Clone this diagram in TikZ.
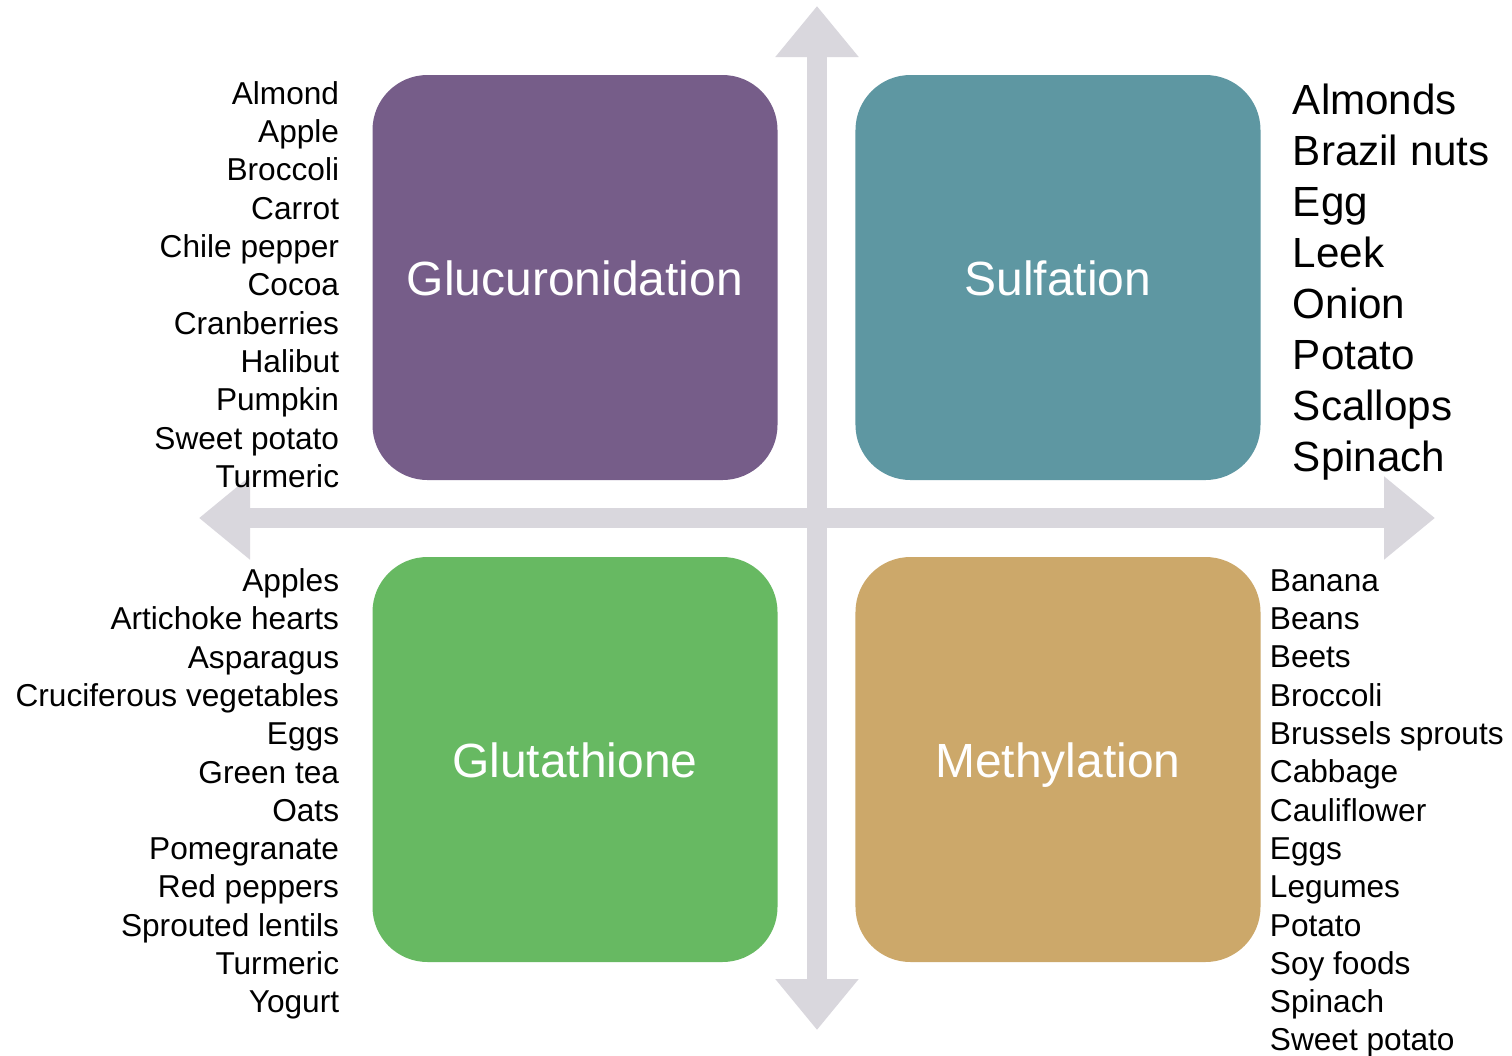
\documentclass[tikz,border=0pt]{standalone}
\usepackage{fontspec}
\setmainfont{Liberation Sans}
\usetikzlibrary{matrix,arrows.meta,positioning}

\definecolor{glucpurple}{HTML}{765D89}
\definecolor{sulfteal}{HTML}{5E97A2}
\definecolor{glutgreen}{HTML}{67B962}
\definecolor{methtan}{HTML}{CCA86A}
\definecolor{crossgray}{HTML}{D9D7DD}

\tikzset{
  pathway/.style={minimum width=4.05cm, minimum height=4.05cm, inner sep=0pt, anchor=center,
    text height=10pt, text depth=0pt,
    rounded corners=0.55cm, text=white, font=\fontsize{13.65}{16}\selectfont},
  foods/.style={inner sep=0pt, font=\fontsize{9}{10.9}\selectfont},
  bigfoods/.style={inner sep=0pt, font=\fontsize{12}{14.5}\selectfont},
  axis/.style={crossgray, line width=0.2cm,
    {Triangle[width=0.8cm,length=0.51cm]}-{Triangle[width=0.8cm,length=0.51cm]}}
}

\begin{document}
\begin{tikzpicture}
  \useasboundingbox[fill=white] (0,0) rectangle (15.12,10.55);
  % the cross
  \coordinate (up) at (8.17,10.49);
  \coordinate (down) at (8.17,0.25);
  \coordinate (west) at (1.99,5.37);
  \coordinate (east) at (14.35,5.37);
  \draw[axis] (down) -- (up);
  \draw[axis] (west) -- (east);

  \matrix (m) [matrix of nodes, row sep=0.77cm, column sep=0.78cm, nodes={pathway}] at (8.165,5.365)
  {
|[fill=glucpurple]| Glucuronidation & |[fill=sulfteal]| Sulfation \\
|[fill=glutgreen]| Glutathione     & |[fill=methtan]| Methylation \\
};

  % food lists
  \node (glucfood) [foods, align=right, left=0.32cm of m-1-1, yshift=-0.07cm]
  {Almond\\Apple\\Broccoli\\Carrot\\Chile pepper\\Cocoa\\Cranberries\\Halibut\\Pumpkin\\Sweet potato\\Turmeric};
  \node (sulffood) [bigfoods, align=left, right=0.31cm of m-1-2, yshift=-0.045cm]
  {Almonds\\Brazil nuts\\Egg\\Leek\\Onion\\Potato\\Scallops\\Spinach};
  \node (glutfood) [foods, align=right, left=0.32cm of m-2-1, yshift=-0.345cm]
  {Apples\\Artichoke hearts\\Asparagus\\Cruciferous vegetables\\Eggs\\Green tea\\Oats\\Pomegranate\\Red peppers\\Sprouted lentils\\Turmeric\\Yogurt};
  \node (methfood) [foods, align=left, right=0.08cm of m-2-2, yshift=-0.54cm]
  {Banana\\Beans\\Beets\\Broccoli\\Brussels sprouts\\Cabbage\\Cauliflower\\Eggs\\Legumes\\Potato\\Soy foods\\Spinach\\Sweet potato};
\end{tikzpicture}
\end{document}
